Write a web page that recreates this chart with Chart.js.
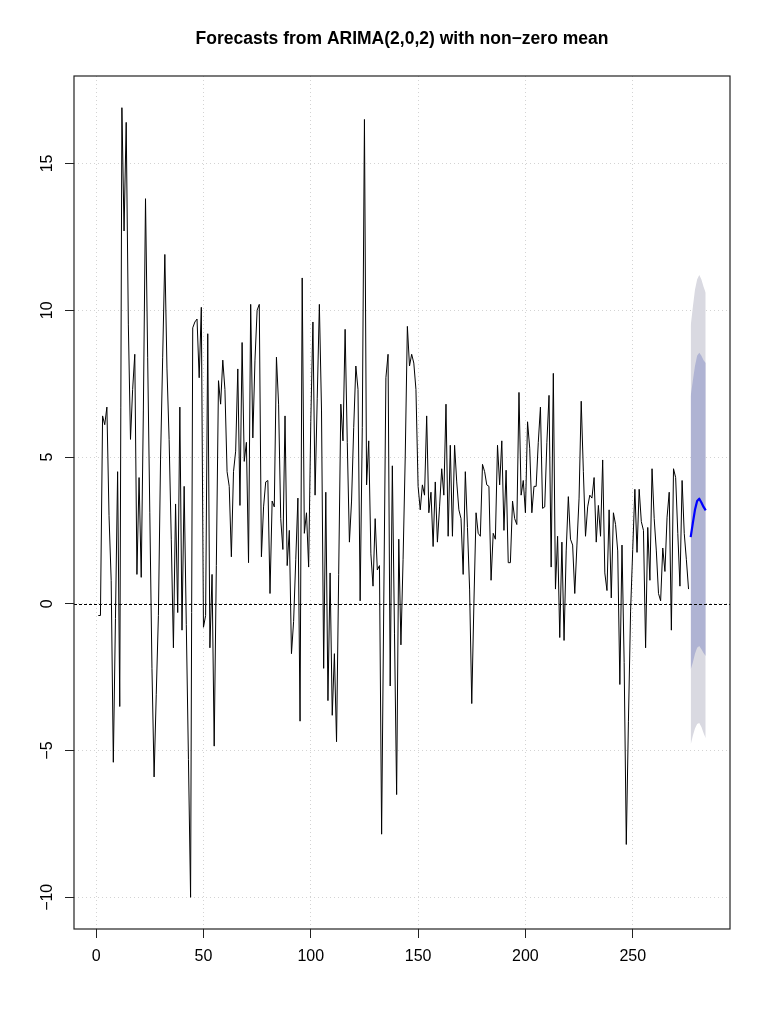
<!DOCTYPE html>
<html>
<head>
<meta charset="utf-8">
<title>Forecasts from ARIMA(2,0,2) with non-zero mean</title>
<script src="https://cdn.jsdelivr.net/npm/chart.js@4.4.1/dist/chart.umd.min.js"></script>
<style>
  html, body { margin: 0; padding: 0; background: #fff; }
  canvas { display: block; }
</style>
</head>
<body>
<canvas id="chart" width="768" height="1024"></canvas>
<script>
// Observed series, t = 1..276
const observed = [
  -0.4, -0.4, 6.4, 6.1, 6.7, 3.0, 0.8, -5.4, -0.5, 4.5,
  -3.5, 16.9, 12.7, 16.4, 9.5, 5.6, 7.3, 8.5, 1.0, 4.3,
  0.9, 6.6, 13.8, 8.4, 3.1, -2.2, -5.9, -3.1, -0.4, 4.9,
  8.4, 11.9, 8.0, 5.6, 2.2, -1.5, 3.4, -0.3, 6.7, -0.9,
  4.0, -0.7, -5.3, -10.0, 9.4, 9.6, 9.7, 7.7, 10.1, -0.8,
  -0.4, 9.2, -1.5, 1.0, -4.85, 1.3, 7.6, 6.8, 8.3, 7.3,
  4.5, 4.0, 1.6, 4.5, 5.2, 8.0, 3.35, 8.9, 4.85, 5.5,
  1.4, 10.2, 5.65, 8.3, 10.0, 10.2, 1.6, 3.3, 4.15, 4.2,
  0.35, 3.5, 3.3, 8.4, 6.8, 2.9, 1.85, 6.4, 1.3, 2.5,
  -1.7, -0.6, 1.5, 3.6, -4.0, 11.1, 2.4, 3.1, 1.25, 6.2,
  9.6, 3.7, 7.0, 10.2, 6.6, -2.2, 3.8, -3.3, 1.05, -3.8,
  -1.7, -4.7, 1.0, 6.8, 5.55, 9.35, 5.5, 2.1, 3.5, 6.0,
  8.1, 7.3, 0.1, 6.0, 16.5, 4.05, 5.55, 1.7, 0.6, 2.9,
  1.15, 1.3, -7.85, 0.0, 7.7, 8.5, -2.8, 4.7, -1.0, -6.5,
  2.2, -1.4, 1.5, 5.0, 9.45, 8.1, 8.5, 8.2, 7.3, 4.0,
  3.2, 4.05, 3.7, 6.4, 3.1, 3.8, 1.95, 4.15, 2.1, 3.3,
  4.6, 3.7, 6.8, 2.3, 5.4, 2.3, 5.4, 4.15, 3.2, 2.9,
  1.0, 4.5, 2.6, 0.5, -3.4, 0.0, 3.1, 2.4, 2.3, 4.75,
  4.5, 4.05, 4.0, 0.8, 2.4, 2.2, 5.4, 4.05, 5.55, 2.5,
  4.55, 1.4, 1.4, 3.5, 2.9, 2.7, 7.2, 3.7, 4.2, 3.1,
  6.2, 5.3, 3.1, 4.0, 4.0, 5.5, 6.7, 3.25, 3.3, 5.5,
  7.1, 1.25, 7.85, 0.5, 2.3, -1.15, 2.1, -1.25, 1.8, 3.65,
  2.2, 2.0, 0.35, 2.0, 3.6, 6.9, 4.5, 2.3, 3.3, 3.7,
  3.6, 4.3, 2.1, 3.35, 2.3, 4.9, 1.05, 0.45, 3.2, 0.2,
  3.1, 2.7, 1.8, -2.75, 2.0, -2.0, -8.2, -4.0, -0.25, 1.85,
  3.9, 1.75, 3.9, 2.8, 2.5, -1.5, 2.6, 0.8, 4.6, 2.9,
  1.8, 0.35, 0.1, 1.9, 1.1, 2.95, 3.8, -0.9, 4.6, 4.3,
  2.4, 0.6, 4.2, 2.4, 1.5, 0.5
];

// Forecast horizon and intervals
const forecastT = [277, 278, 279, 280, 281, 282, 283, 284];
const forecastMean = [2.27, 2.75, 3.2, 3.5, 3.58, 3.45, 3.3, 3.18];
const lower80 = [-2.24, -2.0, -1.7, -1.5, -1.44, -1.55, -1.68, -1.78];
const upper80 = [7.07, 7.6, 8.1, 8.45, 8.55, 8.45, 8.3, 8.2];
const lower95 = [-4.8, -4.5, -4.25, -4.1, -4.06, -4.2, -4.4, -4.58];
const upper95 = [9.46, 10.1, 10.7, 11.05, 11.2, 11.05, 10.8, 10.6];

const xTicks = [0, 50, 100, 150, 200, 250];
const yTicks = [-10, -5, 0, 5, 10, 15];
const xLimits = [-10.32, 295.32];
const yLimits = [-11.08, 17.98];
const titleText = "Forecasts from ARIMA(2,0,2) with non\u2212zero mean";

const FONT = "'Liberation Sans', Arial, Helvetica, sans-serif";
const minus = (v) => String(v).replace("-", "\u2212");
const pts = (xs, ys) => ys.map((y, i) => ({ x: xs[i], y }));
const obsPoints = observed.map((y, i) => ({ x: i + 1, y }));

// box, dashed zero line, rotated y labels and a title centred on the plot
// region, the way base R lays them out
const rFrame = {
  id: "rFrame",
  afterDatasetsDraw(chart) {
    const { ctx, chartArea: a, scales } = chart;
    ctx.save();
    const y0 = Math.round(scales.y.getPixelForValue(0)) + 0.5;
    ctx.strokeStyle = "#000";
    ctx.lineWidth = 1;
    ctx.setLineDash([3, 2]);
    ctx.beginPath();
    ctx.moveTo(a.left, y0);
    ctx.lineTo(a.right, y0);
    ctx.stroke();
    ctx.setLineDash([]);
    ctx.strokeStyle = "#222";
    ctx.lineWidth = 1.2;
    ctx.strokeRect(a.left, a.top, a.right - a.left, a.bottom - a.top);

    ctx.fillStyle = "#000";
    ctx.textAlign = "center";
    ctx.textBaseline = "middle";
    ctx.font = "16px " + FONT;
    yTicks.forEach((v) => {
      ctx.save();
      ctx.translate(a.left - 26, scales.y.getPixelForValue(v));
      ctx.rotate(-Math.PI / 2);
      ctx.fillText(minus(v), 0, 0);
      ctx.restore();
    });

    ctx.font = "bold 17.5px " + FONT;
    ctx.fillText(titleText, (a.left + a.right) / 2, 39);
    ctx.restore();
  },
};

const gridStyle = {
  color: "#d3d3d3",
  lineWidth: 1,
  drawTicks: true,
  tickLength: 9,
  tickColor: "#222",
  tickWidth: 1,
};

new Chart(document.getElementById("chart"), {
  type: "line",
  data: {
    datasets: [
      {
        label: "observed",
        data: obsPoints,
        borderColor: "#000",
        borderWidth: 1,
        borderJoinStyle: "round",
        pointRadius: 0,
        tension: 0,
        fill: false,
        order: 1,
      },
      {
        label: "forecast",
        data: pts(forecastT, forecastMean),
        borderColor: "#0000ff",
        borderWidth: 2.2,
        borderJoinStyle: "round",
        pointRadius: 0,
        fill: false,
        order: 0,
      },
      {
        label: "hi80",
        data: pts(forecastT, upper80),
        borderWidth: 0,
        pointRadius: 0,
        backgroundColor: "#afb3d3",
        fill: "+1",
        order: 3,
      },
      {
        label: "lo80",
        data: pts(forecastT, lower80),
        borderWidth: 0,
        pointRadius: 0,
        fill: false,
        order: 3,
      },
      {
        label: "hi95",
        data: pts(forecastT, upper95),
        borderWidth: 0,
        pointRadius: 0,
        backgroundColor: "#d9d9e1",
        fill: "+1",
        order: 5,
      },
      {
        label: "lo95",
        data: pts(forecastT, lower95),
        borderWidth: 0,
        pointRadius: 0,
        fill: false,
        order: 5,
      },
    ],
  },
  options: {
    responsive: false,
    animation: false,
    events: [],
    layout: { padding: { left: 0, right: 38, top: 76, bottom: 0 } },
    plugins: {
      legend: { display: false },
      tooltip: { enabled: false },
      title: { display: false },
    },
    scales: {
      x: {
        type: "linear",
        min: xLimits[0],
        max: xLimits[1],
        afterBuildTicks: (scale) => { scale.ticks = xTicks.map((v) => ({ value: v })); },
        afterFit: (scale) => { scale.height = 95; },
        grid: gridStyle,
        border: { display: false, dash: [1, 3] },
        ticks: {
          color: "#000",
          font: { family: FONT, size: 16 },
          padding: 9,
          maxRotation: 0,
          autoSkip: false,
          callback: (v) => minus(v),
        },
      },
      y: {
        type: "linear",
        min: yLimits[0],
        max: yLimits[1],
        afterBuildTicks: (scale) => { scale.ticks = yTicks.map((v) => ({ value: v })); },
        afterFit: (scale) => { scale.width = 74; },
        grid: gridStyle,
        border: { display: false, dash: [1, 3] },
        ticks: { display: false },
      },
    },
  },
  plugins: [rFrame],
});
</script>
</body>
</html>
